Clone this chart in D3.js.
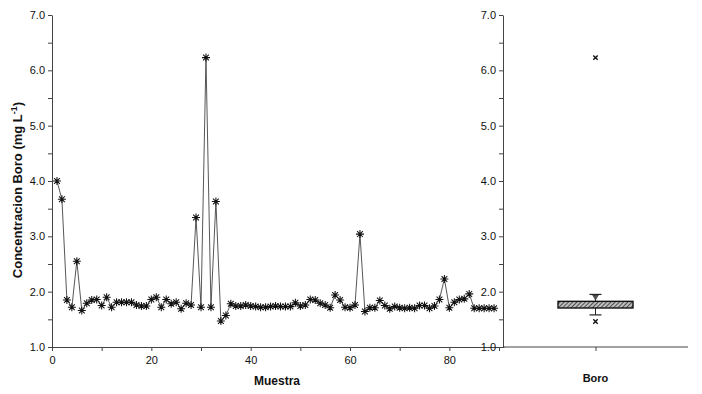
<!DOCTYPE html>
<html lang="es">
<head>
    <meta charset="UTF-8">
    <script src="https://cdn.jsdelivr.net/npm/d3@7/dist/d3.min.js"></script>
    <title>Boro</title>
    <style>
        body { margin: 0; background: #fff; }
        text { font-family: "Liberation Sans", Arial, sans-serif; fill: #111; }
    </style>
</head>
<body>
<script>
    // datos
    let muestra = d3.range(1, 90);
    let boro = [4.00, 3.67, 1.85, 1.72, 2.55, 1.66, 1.79, 1.85, 1.86, 1.75,
        1.90, 1.72, 1.81, 1.81, 1.81, 1.81, 1.76, 1.74, 1.74, 1.86,
        1.90, 1.72, 1.86, 1.78, 1.81, 1.69, 1.79, 1.76, 3.34, 1.72,
        6.23, 1.72, 3.63, 1.47, 1.57, 1.78, 1.74, 1.74, 1.76, 1.74,
        1.73, 1.72, 1.72, 1.73, 1.74, 1.73, 1.73, 1.73, 1.80, 1.74,
        1.76, 1.86, 1.85, 1.79, 1.76, 1.71, 1.94, 1.85, 1.72, 1.71,
        1.76, 3.04, 1.64, 1.71, 1.71, 1.84, 1.75, 1.69, 1.73, 1.71,
        1.70, 1.71, 1.70, 1.75, 1.75, 1.70, 1.74, 1.86, 2.23, 1.71,
        1.81, 1.86, 1.87, 1.96, 1.70, 1.70, 1.70, 1.70, 1.70];
    let xTicks = [0, 20, 40, 60, 80];
    let yTicks = [1, 2, 3, 4, 5, 6, 7];
    // caja: [bigote inf, Q1, mediana, Q3, bigote sup], media y atípicos
    let caja = [1.58, 1.705, 1.74, 1.825, 1.95];
    let media = 1.91;
    let atipicos = [6.23, 1.46];

    let svg = d3.select("body").append("svg")
        .attr("width", 702).attr("height", 394);

    let defs = svg.append("defs");
    let pat = defs.append("pattern")
        .attr("id", "rayas")
        .attr("patternUnits", "userSpaceOnUse")
        .attr("width", 3).attr("height", 3)
        .attr("patternTransform", "rotate(45)");
    pat.append("rect").attr("width", 3).attr("height", 3).attr("fill", "#bdbdbd");
    pat.append("line").attr("x1", 0).attr("y1", 0).attr("x2", 0).attr("y2", 3)
        .attr("stroke", "#2a2a2a").attr("stroke-width", 1.5);

    // escalas
    let xScale = d3.scaleLinear().domain([0, 91]).range([52, 504]);
    let yScale = d3.scaleLinear().domain([1, 7]).range([347, 15]);
    let bScale = d3.scalePoint().domain(["Boro"]).range([503, 688]).padding(1);

    // ejes panel izquierdo
    let xAxis = d3.axisBottom(xScale).tickValues(d3.range(0, 91, 10))
        .tickSize(4).tickSizeOuter(0)
        .tickFormat(d => xTicks.includes(d) ? d : "");
    let yAxis = d3.axisLeft(yScale).tickValues(d3.range(1, 7.01, 0.5))
        .tickSize(4).tickSizeOuter(0)
        .tickFormat(d => yTicks.includes(d) ? d3.format(".1f")(d) : "");

    let gx = svg.append("g").attr("transform", "translate(0, 347)").call(xAxis);
    let gy = svg.append("g").attr("transform", "translate(52, 0)").call(yAxis);

    // panel derecho
    let yAxis2 = d3.axisLeft(yScale).tickValues(d3.range(1, 7.01, 0.5))
        .tickSize(4).tickSizeOuter(0)
        .tickFormat(d => yTicks.includes(d) ? d3.format(".1f")(d) : "");
    let gy2 = svg.append("g").attr("transform", "translate(503, 0)").call(yAxis2);
    let gb = svg.append("g").attr("transform", "translate(0, 347)")
        .call(d3.axisBottom(bScale).tickSize(4).tickSizeOuter(0).tickFormat(""));
    gb.select(".domain").attr("d", "M503,0H688");

    [gx, gy, gy2, gb].forEach(g => {
        g.selectAll(".domain").attr("stroke", "#444");
        g.selectAll(".tick line").attr("stroke", "#444");
        g.selectAll("text").style("font-size", "11px").attr("fill", "#111");
    });
    gx.selectAll(".tick text").attr("dy", "0.9em");
    gy.selectAll(".tick text").attr("x", -7);
    gy2.selectAll(".tick text").attr("x", -7);

    // línea y marcadores
    let pts = muestra.map((m, i) => [m, boro[i]]);
    svg.append("path")
        .datum(pts)
        .attr("fill", "none")
        .attr("stroke", "#444")
        .attr("stroke-width", 0.9)
        .attr("d", d3.line().x(d => xScale(d[0])).y(d => yScale(d[1])));

    let r = 4;
    let star = `M${-r},0H${r}M0,${-r}V${r}M${-r * 0.72},${-r * 0.72}L${r * 0.72},${r * 0.72}M${-r * 0.72},${r * 0.72}L${r * 0.72},${-r * 0.72}`;
    svg.append("g").selectAll("path")
        .data(pts)
        .join("path")
        .attr("transform", d => `translate(${xScale(d[0])},${yScale(d[1])})`)
        .attr("d", star)
        .attr("stroke", "#111")
        .attr("stroke-width", 1.05)
        .attr("fill", "none");

    // diagrama de caja
    let cx = bScale("Boro");
    let bw = 75;
    let gbox = svg.append("g");
    gbox.append("line").attr("x1", cx).attr("x2", cx)
        .attr("y1", yScale(caja[4])).attr("y2", yScale(caja[0]))
        .attr("stroke", "#222");
    gbox.selectAll(".cap").data([caja[0], caja[4]]).join("line")
        .attr("x1", cx - 6).attr("x2", cx + 6)
        .attr("y1", d => yScale(d)).attr("y2", d => yScale(d))
        .attr("stroke", "#222").attr("stroke-width", 1.2);
    gbox.append("rect")
        .attr("x", cx - bw / 2).attr("width", bw)
        .attr("y", yScale(caja[3])).attr("height", yScale(caja[1]) - yScale(caja[3]))
        .attr("fill", "url(#rayas)").attr("stroke", "#111").attr("stroke-width", 1.4);
    gbox.append("path")
        .attr("d", d3.symbol(d3.symbolTriangle, 14)())
        .attr("fill", "#555")
        .attr("stroke", "#222")
        .attr("stroke-width", 0.6)
        .attr("transform", `translate(${cx},${yScale(media)}) rotate(180)`);
    let rx = 2.2;
    gbox.selectAll(".out").data(atipicos).join("path")
        .attr("transform", d => `translate(${cx},${yScale(d)})`)
        .attr("d", `M${-rx},${-rx}L${rx},${rx}M${-rx},${rx}L${rx},${-rx}`)
        .attr("stroke", "#111").attr("stroke-width", 1.4);

    // títulos
    svg.append("text")
        .attr("x", 277).attr("y", 385)
        .attr("text-anchor", "middle")
        .style("font-size", "12px").style("font-weight", "bold")
        .text("Muestra");
    svg.append("text")
        .attr("x", cx).attr("y", 382)
        .attr("text-anchor", "middle")
        .style("font-size", "11px").style("font-weight", "bold")
        .text("Boro");
    let yt = svg.append("text")
        .attr("transform", "translate(22, 190) rotate(-90)")
        .attr("text-anchor", "middle")
        .style("font-size", "13px").style("font-weight", "bold");
    yt.append("tspan").text("Concentracion Boro (mg L");
    yt.append("tspan").attr("dy", -5).style("font-size", "9px").text("-1");
    yt.append("tspan").attr("dy", 5).text(")");
</script>
</body>
</html>
